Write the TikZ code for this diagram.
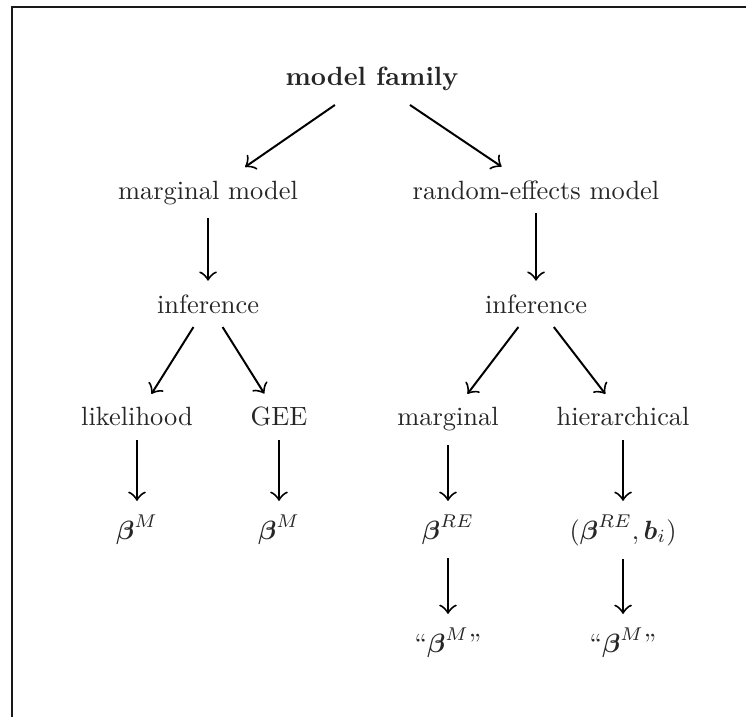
\documentclass[tikz,border=0pt]{standalone}
\usepackage{amsmath}
\usetikzlibrary{positioning,calc,arrows.meta}

\begin{document}
\begin{tikzpicture}[
    >={Classical TikZ Rightarrow[scale=1.4]},
    every node/.style={inner sep=5pt, text=black!85, anchor=base},
    topnode/.style={font=\bfseries},
    flowarrow/.style={->, line width=0.75pt, black},
    framestyle/.style={line width=0.9pt, black!90},
]

\useasboundingbox (0,0) rectangle (9.933,-9.534);
\clip (0,0) rectangle (9.933,-9.534);

% ---- Frame ----
\draw[framestyle] (0.160,-9.7) -- (0.160,-0.093) -- (10.1,-0.093);

% ---- Rows and columns ----
\coordinate (row1) at (0,-1.145);
\coordinate (row2) at (0,-2.650);
\coordinate (row3) at (0,-4.168);
\coordinate (row4) at (0,-5.672);
\coordinate (row5) at (0,-7.177);
\coordinate (row6) at (0,-8.682);

\coordinate (colLL) at (1.824,0);
\coordinate (colL)  at (2.770,0);
\coordinate (colLR) at (3.715,0);
\coordinate (colM)  at (4.953,0);
\coordinate (colRL) at (5.965,0);
\coordinate (colR)  at (7.137,0);
\coordinate (colRR) at (8.296,0);

% ---- Nodes ----
\node[topnode] (family) at (colM |- row1) {model family};

\node (marg) at (colL |- row2) {marginal model};
\node (re)   at (colR |- row2) {random-effects model};

\node (infL) at (colL |- row3) {inference};
\node (infR) at (colR |- row3) {inference};

\node (lik)   at (colLL |- row4) {likelihood};
\node (gee)   at (colLR |- row4) {GEE};
\node (rmarg) at (colRL |- row4) {marginal};
\node (hier)  at (colRR |- row4) {hierarchical};

\node (bM1)  at (colLL |- row5) {$\boldsymbol{\beta}^M$};
\node (bM2)  at (colLR |- row5) {$\boldsymbol{\beta}^M$};
\node (bRE)  at (colRL |- row5) {$\boldsymbol{\beta}^{RE}$};
\node (bREb) at (colRR |- row5) {$(\boldsymbol{\beta}^{RE},\boldsymbol{b}_i)$};

\node (qM1) at (colRL |- row6) {``$\boldsymbol{\beta}^M$''};
\node (qM2) at (colRR |- row6) {``$\boldsymbol{\beta}^M$''};

% ---- Arrows ----
\draw[flowarrow] (family) -- (marg);
\draw[flowarrow] (family) -- (re);

\draw[flowarrow] (marg) -- (infL);
\draw[flowarrow] (re) -- (infR);

\draw[flowarrow] (infL) -- (lik);
\draw[flowarrow] (infL) -- (gee);
\draw[flowarrow] (infR) -- (rmarg);
\draw[flowarrow] (infR) -- (hier);

\draw[flowarrow] (lik) -- (bM1);
\draw[flowarrow] (gee) -- (bM2);
\draw[flowarrow] (rmarg) -- (bRE);
\draw[flowarrow] (hier) -- (bREb);

\draw[flowarrow] (bRE) -- (qM1);
\draw[flowarrow] (bREb) -- (qM2);

\end{tikzpicture}
\end{document}
